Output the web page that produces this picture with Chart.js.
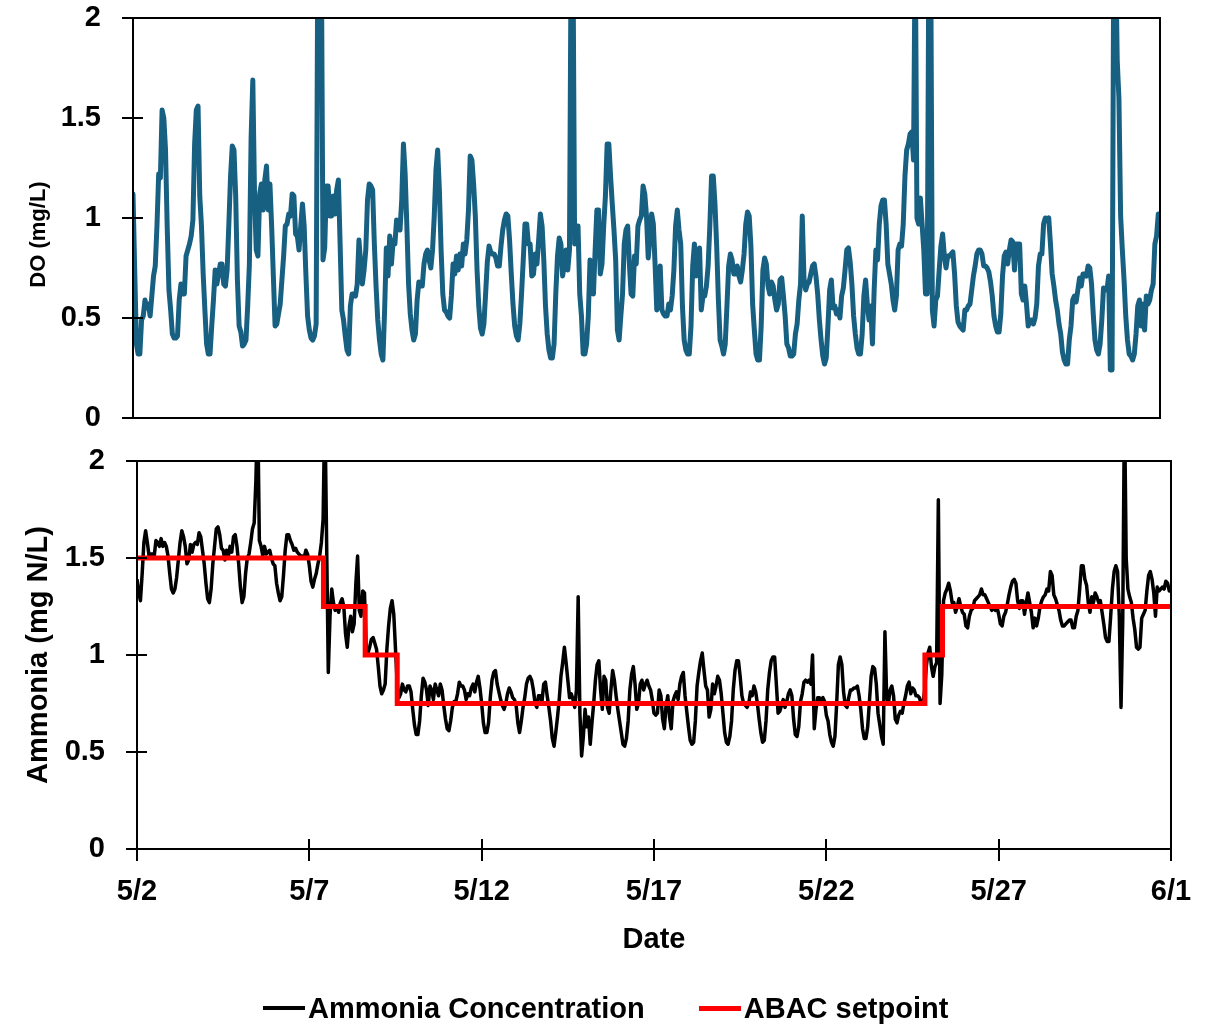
<!DOCTYPE html>
<html>
<head>
<meta charset="utf-8">
<title>DO and ammonia</title>
<script src="https://cdn.jsdelivr.net/npm/chart.js@4.4.1/dist/chart.umd.min.js"></script>
<style>
  html, body { margin: 0; padding: 0; background: #fff; overflow: hidden; }
  #wrap { position: relative; width: 1216px; height: 1025px; }
  #doBox { position: absolute; left: 0; top: 0; width: 1216px; height: 440px; }
  #nhBox { position: absolute; left: 0; top: 430px; width: 1216px; height: 595px; }
  #legend { position: absolute; left: 263px; top: 990px; height: 36px; display: flex; align-items: center;
            font: bold 29px 'Liberation Sans', Arial, sans-serif; color: #000; }
  #legend .item { display: flex; align-items: center; margin-right: 54px; white-space: nowrap; }
  #legend .swatch { width: 42px; margin-right: 3px; }
</style>
</head>
<body>
<div id="wrap">
  <div id="doBox"><canvas id="doChart"></canvas></div>
  <div id="nhBox"><canvas id="nhChart"></canvas></div>
  <div id="legend"></div>
</div>
<script>
// readings every 0.05 day (1.2 h) starting 5/2 00:00, one row per day
const sampleStepDays = 0.05;

const tickDays = [0, 5, 10, 15, 20, 25, 30];
const dateLabels = ['5/2', '5/7', '5/12', '5/17', '5/22', '5/27', '6/1'];

const yTicks = [0, 0.5, 1, 1.5, 2];
const yTickLabels = ['0', '0.5', '1', '1.5', '2'];

// dissolved oxygen, mg/L
const doValues = [
  1.12, 0.74, 0.37, 0.32, 0.32, 0.49, 0.51, 0.59, 0.55, 0.57, 0.51, 0.61, 0.71, 0.76, 0.96, 1.22, 1.20, 1.54, 1.50, 1.34,
  0.95, 0.64, 0.54, 0.42, 0.40, 0.40, 0.41, 0.59, 0.67, 0.62, 0.62, 0.81, 0.84, 0.87, 0.91, 0.99, 1.37, 1.54, 1.56, 1.11,
  0.96, 0.72, 0.54, 0.37, 0.32, 0.32, 0.46, 0.59, 0.74, 0.67, 0.72, 0.77, 0.77, 0.67, 0.66, 0.74, 0.97, 1.21, 1.36, 1.34,
  1.11, 0.69, 0.46, 0.43, 0.36, 0.37, 0.39, 0.56, 0.77, 1.40, 1.69, 1.12, 0.84, 0.81, 1.12, 1.17, 1.04, 1.19, 1.26, 1.04,
  1.17, 0.96, 0.71, 0.46, 0.47, 0.52, 0.57, 0.69, 0.81, 0.96, 0.97, 1.02, 1.01, 1.12, 1.11, 0.92, 0.91, 0.84, 0.96, 1.07,
  0.96, 0.72, 0.51, 0.44, 0.40, 0.39, 0.41, 0.47, 2.40, 2.40, 2.40, 0.79, 0.85, 1.16, 1.16, 1.01, 1.01, 1.11, 1.02, 1.14,
  1.19, 0.87, 0.54, 0.49, 0.41, 0.34, 0.32, 0.56, 0.62, 0.62, 0.61, 0.67, 0.89, 0.77, 0.67, 0.74, 0.84, 1.09, 1.17, 1.16,
  1.14, 0.87, 0.66, 0.49, 0.39, 0.32, 0.29, 0.54, 0.85, 0.71, 0.91, 0.77, 0.89, 0.87, 0.99, 0.97, 0.94, 1.09, 1.37, 1.22,
  0.96, 0.67, 0.52, 0.44, 0.39, 0.42, 0.59, 0.68, 0.66, 0.66, 0.77, 0.82, 0.84, 0.79, 0.75, 0.84, 1.01, 1.24, 1.34, 1.14,
  0.84, 0.62, 0.54, 0.53, 0.51, 0.50, 0.61, 0.77, 0.72, 0.81, 0.74, 0.82, 0.76, 0.87, 0.82, 0.89, 1.04, 1.31, 1.29, 1.17,
  1.01, 0.74, 0.56, 0.45, 0.42, 0.47, 0.62, 0.78, 0.86, 0.83, 0.82, 0.82, 0.80, 0.76, 0.76, 0.86, 0.94, 0.99, 1.02, 1.01,
  0.89, 0.72, 0.57, 0.46, 0.41, 0.39, 0.47, 0.62, 0.79, 0.97, 0.97, 0.87, 0.87, 0.71, 0.72, 0.82, 0.77, 0.89, 1.02, 0.96,
  0.79, 0.56, 0.42, 0.34, 0.30, 0.30, 0.37, 0.62, 0.81, 0.90, 0.87, 0.71, 0.77, 0.84, 0.74, 0.84, 2.40, 2.40, 0.87, 0.96,
  0.96, 0.62, 0.51, 0.32, 0.32, 0.37, 0.51, 0.79, 0.77, 0.62, 0.84, 1.04, 1.04, 0.72, 0.77, 0.96, 1.11, 1.37, 1.37, 1.21,
  1.07, 0.94, 0.79, 0.44, 0.39, 0.51, 0.62, 0.87, 0.94, 0.96, 0.77, 0.62, 0.61, 0.81, 0.77, 0.96, 0.99, 1.01, 1.16, 1.12,
  1.01, 0.80, 0.90, 1.02, 0.97, 0.77, 0.54, 0.59, 0.76, 0.54, 0.52, 0.51, 0.51, 0.57, 0.54, 0.61, 0.74, 0.96, 1.04, 0.94,
  0.87, 0.56, 0.39, 0.34, 0.32, 0.32, 0.46, 0.76, 0.87, 0.71, 0.77, 0.85, 0.54, 0.61, 0.61, 0.66, 0.76, 0.96, 1.21, 1.21,
  1.07, 0.86, 0.59, 0.39, 0.36, 0.32, 0.37, 0.56, 0.76, 0.82, 0.79, 0.72, 0.72, 0.76, 0.71, 0.68, 0.74, 0.82, 0.97, 1.03,
  1.01, 0.86, 0.57, 0.44, 0.32, 0.29, 0.29, 0.46, 0.74, 0.80, 0.77, 0.66, 0.62, 0.68, 0.66, 0.59, 0.54, 0.57, 0.69, 0.70,
  0.61, 0.51, 0.37, 0.35, 0.31, 0.31, 0.32, 0.42, 0.47, 0.59, 0.67, 1.01, 0.70, 0.64, 0.67, 0.68, 0.72, 0.76, 0.77, 0.71,
  0.62, 0.49, 0.39, 0.31, 0.27, 0.30, 0.46, 0.64, 0.69, 0.55, 0.56, 0.52, 0.54, 0.50, 0.61, 0.65, 0.74, 0.84, 0.85, 0.78,
  0.67, 0.51, 0.42, 0.35, 0.32, 0.32, 0.42, 0.61, 0.69, 0.57, 0.49, 0.56, 0.37, 0.64, 0.84, 0.79, 0.97, 1.06, 1.09, 1.09,
  0.97, 0.77, 0.72, 0.67, 0.59, 0.54, 0.61, 0.84, 0.87, 0.86, 0.97, 1.21, 1.34, 1.37, 1.42, 1.43, 1.29, 2.40, 1.00, 0.97,
  1.10, 0.97, 0.84, 0.62, 0.62, 2.40, 2.40, 0.54, 0.46, 0.59, 0.61, 0.74, 0.86, 0.92, 0.81, 0.75, 0.81, 0.81, 0.82, 0.83,
  0.72, 0.56, 0.48, 0.46, 0.45, 0.44, 0.54, 0.54, 0.56, 0.57, 0.64, 0.71, 0.76, 0.82, 0.84, 0.84, 0.82, 0.76, 0.76, 0.75,
  0.73, 0.68, 0.61, 0.51, 0.46, 0.43, 0.43, 0.52, 0.71, 0.81, 0.83, 0.77, 0.84, 0.89, 0.88, 0.74, 0.87, 0.87, 0.87, 0.62,
  0.59, 0.66, 0.57, 0.46, 0.49, 0.49, 0.47, 0.50, 0.57, 0.76, 0.82, 0.82, 0.97, 1.00, 0.99, 1.00, 0.87, 0.72, 0.66, 0.59,
  0.54, 0.47, 0.42, 0.33, 0.29, 0.27, 0.27, 0.39, 0.46, 0.59, 0.61, 0.58, 0.64, 0.70, 0.66, 0.72, 0.72, 0.71, 0.76, 0.75,
  0.67, 0.52, 0.39, 0.34, 0.32, 0.37, 0.49, 0.65, 0.64, 0.64, 0.71, 0.24, 0.24, 2.40, 2.40, 1.79, 1.60, 1.01, 0.84, 0.69,
  0.51, 0.39, 0.32, 0.31, 0.29, 0.32, 0.42, 0.56, 0.59, 0.46, 0.57, 0.44, 0.61, 0.57, 0.59, 0.64, 0.67, 0.87, 0.91, 1.02,
  1.02
];

// ammonia concentration, mg N/L
const nh3Values = [
  1.39, 1.32, 1.28, 1.42, 1.58, 1.64, 1.58, 1.51, 1.52, 1.52, 1.51, 1.59, 1.58, 1.56, 1.60, 1.56, 1.58, 1.56, 1.51, 1.42,
  1.34, 1.32, 1.34, 1.40, 1.49, 1.58, 1.64, 1.61, 1.56, 1.47, 1.49, 1.57, 1.53, 1.57, 1.58, 1.57, 1.63, 1.61, 1.54, 1.47,
  1.37, 1.29, 1.27, 1.34, 1.47, 1.56, 1.65, 1.66, 1.62, 1.55, 1.54, 1.49, 1.54, 1.51, 1.56, 1.53, 1.61, 1.62, 1.56, 1.47,
  1.35, 1.27, 1.30, 1.42, 1.50, 1.52, 1.58, 1.65, 1.68, 1.90, 2.30, 1.59, 1.56, 1.51, 1.56, 1.52, 1.53, 1.54, 1.50, 1.47,
  1.46, 1.37, 1.32, 1.28, 1.30, 1.41, 1.54, 1.62, 1.62, 1.59, 1.57, 1.54, 1.55, 1.53, 1.52, 1.51, 1.51, 1.50, 1.54, 1.52,
  1.46, 1.38, 1.35, 1.39, 1.42, 1.47, 1.51, 1.58, 1.70, 2.30, 1.60, 0.91, 1.20, 1.34, 1.27, 1.23, 1.25, 1.22, 1.27, 1.29,
  1.25, 1.11, 1.04, 1.15, 1.20, 1.12, 1.16, 1.37, 1.51, 1.23, 1.20, 1.33, 1.32, 1.04, 1.01, 1.04, 1.08, 1.09, 1.06, 1.03,
  0.94, 0.84, 0.80, 0.82, 0.85, 1.03, 1.15, 1.24, 1.28, 1.21, 1.03, 0.85, 0.78, 0.80, 0.85, 0.82, 0.81, 0.84, 0.84, 0.81,
  0.72, 0.64, 0.59, 0.59, 0.66, 0.79, 0.88, 0.86, 0.82, 0.74, 0.84, 0.82, 0.77, 0.85, 0.82, 0.79, 0.85, 0.82, 0.74, 0.67,
  0.62, 0.61, 0.66, 0.73, 0.76, 0.76, 0.80, 0.86, 0.84, 0.84, 0.82, 0.77, 0.80, 0.79, 0.83, 0.85, 0.81, 0.86, 0.89, 0.83,
  0.75, 0.65, 0.60, 0.60, 0.65, 0.78, 0.87, 0.91, 0.92, 0.85, 0.81, 0.77, 0.74, 0.72, 0.75, 0.80, 0.83, 0.81, 0.78, 0.77,
  0.74, 0.65, 0.60, 0.66, 0.73, 0.78, 0.85, 0.88, 0.89, 0.87, 0.82, 0.75, 0.73, 0.79, 0.79, 0.76, 0.85, 0.86, 0.79, 0.73,
  0.66, 0.57, 0.53, 0.60, 0.68, 0.77, 0.89, 0.96, 1.04, 0.96, 0.87, 0.78, 0.80, 0.77, 0.73, 0.82, 1.30, 0.70, 0.48, 0.58,
  0.72, 0.63, 0.68, 0.54, 0.65, 0.75, 0.87, 0.95, 0.97, 0.82, 0.72, 0.89, 0.87, 0.73, 0.70, 0.82, 0.92, 0.87, 0.79, 0.72,
  0.66, 0.60, 0.54, 0.53, 0.57, 0.66, 0.82, 0.90, 0.94, 0.85, 0.72, 0.75, 0.85, 0.87, 0.82, 0.85, 0.87, 0.84, 0.82, 0.77,
  0.70, 0.69, 0.70, 0.82, 0.79, 0.67, 0.62, 0.74, 0.79, 0.68, 0.62, 0.76, 0.79, 0.81, 0.77, 0.85, 0.89, 0.91, 0.79, 0.71,
  0.63, 0.56, 0.54, 0.55, 0.66, 0.84, 0.91, 0.97, 1.01, 0.92, 0.84, 0.82, 0.68, 0.72, 0.85, 0.80, 0.84, 0.89, 0.87, 0.80,
  0.70, 0.60, 0.55, 0.54, 0.58, 0.66, 0.82, 0.92, 0.97, 0.97, 0.89, 0.79, 0.75, 0.74, 0.73, 0.75, 0.81, 0.79, 0.84, 0.81,
  0.75, 0.67, 0.60, 0.55, 0.56, 0.66, 0.82, 0.91, 0.97, 0.99, 0.99, 0.85, 0.70, 0.71, 0.74, 0.77, 0.73, 0.76, 0.80, 0.82,
  0.79, 0.67, 0.59, 0.58, 0.63, 0.76, 0.80, 0.86, 0.87, 0.86, 0.87, 0.85, 1.00, 0.62, 0.72, 0.78, 0.78, 0.76, 0.78, 0.76,
  0.69, 0.66, 0.59, 0.55, 0.53, 0.58, 0.75, 0.95, 0.99, 0.95, 0.81, 0.74, 0.73, 0.78, 0.82, 0.82, 0.83, 0.83, 0.84, 0.79,
  0.72, 0.62, 0.57, 0.57, 0.63, 0.76, 0.89, 0.94, 0.93, 0.85, 0.70, 0.64, 0.58, 0.54, 1.12, 0.79, 0.75, 0.82, 0.84, 0.79,
  0.67, 0.65, 0.69, 0.71, 0.70, 0.75, 0.79, 0.84, 0.86, 0.80, 0.83, 0.82, 0.79, 0.79, 0.78, 0.75, 0.75, 0.81, 0.94, 1.01,
  1.04, 0.94, 0.89, 0.94, 0.96, 1.80, 0.75, 0.90, 1.28, 1.32, 1.34, 1.37, 1.33, 1.27, 1.27, 1.22, 1.25, 1.29, 1.25, 1.22,
  1.21, 1.15, 1.14, 1.20, 1.23, 1.24, 1.28, 1.29, 1.30, 1.31, 1.34, 1.31, 1.31, 1.29, 1.27, 1.25, 1.23, 1.25, 1.23, 1.25,
  1.21, 1.16, 1.15, 1.20, 1.22, 1.26, 1.31, 1.35, 1.38, 1.39, 1.37, 1.28, 1.24, 1.28, 1.28, 1.21, 1.27, 1.32, 1.27, 1.22,
  1.14, 1.19, 1.15, 1.19, 1.25, 1.28, 1.30, 1.31, 1.34, 1.33, 1.43, 1.41, 1.31, 1.29, 1.26, 1.23, 1.18, 1.15, 1.15, 1.16,
  1.17, 1.18, 1.18, 1.14, 1.14, 1.20, 1.23, 1.34, 1.46, 1.46, 1.39, 1.36, 1.27, 1.22, 1.30, 1.27, 1.32, 1.30, 1.27, 1.28,
  1.22, 1.16, 1.09, 1.07, 1.07, 1.20, 1.34, 1.43, 1.46, 1.43, 1.20, 0.73, 1.18, 2.30, 1.50, 1.34, 1.30, 1.27, 1.19, 1.13,
  1.04, 1.03, 1.04, 1.19, 1.21, 1.23, 1.33, 1.41, 1.43, 1.39, 1.32, 1.20, 1.35, 1.33, 1.34, 1.35, 1.34, 1.38, 1.37, 1.33,
  1.34
];

// ABAC setpoint changes (day, new value)
const setpointDays = [0, 5.41, 6.62, 7.55, 22.86, 23.37, 30];
const setpointValues = [1.5, 1.25, 1.0, 0.75, 1.0, 1.25, 1.25];

const FONT = "'Liberation Sans', Arial, sans-serif";
Chart.defaults.font.family = FONT;
Chart.defaults.color = '#000';

const toPoints = (vals) => vals.map((v, i) => ({ x: +(i * sampleStepDays).toFixed(2), y: v }));

// box around plot area + tick marks that cross the axes
const panelFrame = {
  id: 'panelFrame',
  afterDatasetsDraw(chart, args, opts) {
    const { ctx, chartArea: a, scales } = chart;
    ctx.save();
    ctx.strokeStyle = '#000';
    ctx.lineWidth = 2;
    ctx.strokeRect(a.left, a.top, a.right - a.left, a.bottom - a.top);
    ctx.beginPath();
    scales.y.ticks.forEach(t => {
      const py = Math.round(scales.y.getPixelForValue(t.value));
      ctx.moveTo(a.left - 11, py);
      ctx.lineTo(a.left + 10, py);
    });
    if (opts.xTicks) {
      scales.x.ticks.forEach(t => {
        const px = Math.round(scales.x.getPixelForValue(t.value));
        ctx.moveTo(px, a.bottom - 10);
        ctx.lineTo(px, a.bottom + 12);
      });
    }
    ctx.stroke();
    ctx.restore();
  }
};

// legend as html, items come from chart.js
const htmlLegend = {
  id: 'htmlLegend',
  afterUpdate(chart, args, opts) {
    const box = document.getElementById(opts.containerID);
    if (!box) return;
    box.innerHTML = '';
    const items = chart.options.plugins.legend.labels.generateLabels(chart)
      .sort((a, b) => a.datasetIndex - b.datasetIndex);
    items.forEach(item => {
      const el = document.createElement('span');
      el.className = 'item';
      const sw = document.createElement('span');
      sw.className = 'swatch';
      sw.style.height = item.lineWidth + 'px';
      sw.style.background = item.strokeStyle;
      const txt = document.createElement('span');
      txt.textContent = item.text;
      el.appendChild(sw);
      el.appendChild(txt);
      box.appendChild(el);
    });
  }
};

function yAxis(title, width, titleSize, titlePad) {
  return {
    min: 0,
    max: 2,
    afterBuildTicks: (s) => { s.ticks = yTicks.map(v => ({ value: v })); },
    afterFit: (s) => { s.width = width; },
    ticks: {
      font: { size: 29, weight: 'bold' },
      color: '#000',
      padding: 0,
      callback: (v) => yTickLabels[yTicks.indexOf(v)]
    },
    // tick marks are drawn by panelFrame; tickLength only spaces the labels
    grid: { display: false, drawTicks: true, tickLength: 32 },
    border: { display: false },
    title: { display: true, text: title, color: '#000', font: { size: titleSize, weight: 'bold' }, padding: { top: titlePad, bottom: 0 } }
  };
}

new Chart(document.getElementById('doChart'), {
  type: 'line',
  data: {
    datasets: [{
      label: 'DO',
      data: toPoints(doValues),
      borderColor: '#176082',
      borderWidth: 5,
      pointRadius: 0,
      tension: 0,
      borderJoinStyle: 'round',
      borderCapStyle: 'round'
    }]
  },
  options: {
    responsive: true,
    maintainAspectRatio: false,
    animation: false,
    devicePixelRatio: 1,
    layout: { padding: { left: 0, right: 56, top: 18, bottom: 22 } },
    scales: {
      x: { type: 'linear', min: 0, max: 30, display: false },
      y: yAxis('DO (mg/L)\u2002\u2002\u2002', 133, 22, 26)
    },
    plugins: { legend: { display: false }, tooltip: { enabled: false } }
  },
  plugins: [panelFrame]
});

new Chart(document.getElementById('nhChart'), {
  type: 'line',
  data: {
    datasets: [{
      label: 'Ammonia Concentration',
      data: toPoints(nh3Values),
      borderColor: '#000',
      borderWidth: 3.5,
      pointRadius: 0,
      tension: 0,
      borderJoinStyle: 'round',
      order: 2
    }, {
      label: 'ABAC setpoint',
      data: setpointDays.map((d, i) => ({ x: d, y: setpointValues[i] })),
      borderColor: '#ff0000',
      borderWidth: 5,
      pointRadius: 0,
      stepped: 'before',
      order: 1
    }]
  },
  options: {
    responsive: true,
    maintainAspectRatio: false,
    animation: false,
    devicePixelRatio: 1,
    layout: { padding: { left: 0, right: 45, top: 31, bottom: 56 } },
    scales: {
      x: {
        type: 'linear',
        min: 0,
        max: 30,
        afterBuildTicks: (s) => { s.ticks = tickDays.map(v => ({ value: v })); },
        afterFit: (s) => { s.height = 120; },
        ticks: {
          font: { size: 29, weight: 'bold' },
          color: '#000',
          padding: 0,
          maxRotation: 0,
          autoSkip: false,
          callback: (v) => dateLabels[tickDays.indexOf(v)]
        },
        grid: { display: false, drawTicks: true, tickLength: 26 },
        border: { display: false },
        title: { display: true, text: 'Date', color: '#000', font: { size: 29, weight: 'bold' }, padding: { top: 0, bottom: 12 } }
      },
      y: yAxis('Ammonia (mg N/L)', 137, 29, 22)
    },
    plugins: {
      legend: { display: false },
      tooltip: { enabled: false },
      htmlLegend: { containerID: 'legend' },
      panelFrame: { xTicks: true }
    }
  },
  plugins: [panelFrame, htmlLegend]
});
</script>
</body>
</html>
